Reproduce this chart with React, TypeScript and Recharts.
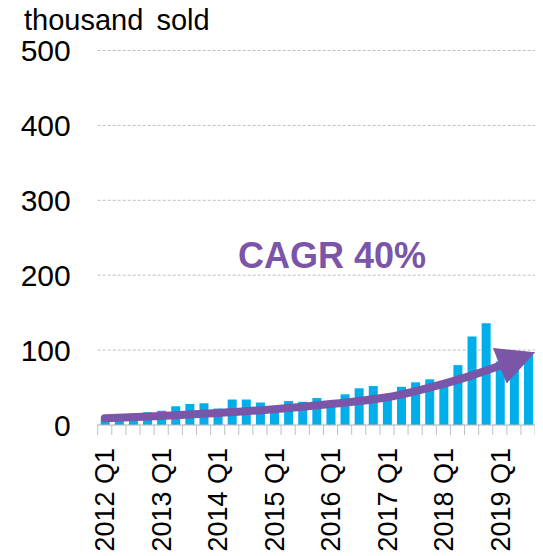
import React from 'react';
import { ComposedChart, Bar, Line, XAxis, YAxis, CartesianGrid } from 'recharts';

// quarterly sales, 2012 Q1 - 2019 Q4 (thousand units)
const quarters = [
  '2012 Q1', '2012 Q2', '2012 Q3', '2012 Q4',
  '2013 Q1', '2013 Q2', '2013 Q3', '2013 Q4',
  '2014 Q1', '2014 Q2', '2014 Q3', '2014 Q4',
  '2015 Q1', '2015 Q2', '2015 Q3', '2015 Q4',
  '2016 Q1', '2016 Q2', '2016 Q3', '2016 Q4',
  '2017 Q1', '2017 Q2', '2017 Q3', '2017 Q4',
  '2018 Q1', '2018 Q2', '2018 Q3', '2018 Q4',
  '2019 Q1', '2019 Q2', '2019 Q3', '2019 Q4',
];
const sold = [
  7, 8, 9, 17, 19, 25, 28, 29,
  22, 34, 34, 30, 25, 32, 31, 36,
  30, 41, 49, 52, 40, 51, 57, 61,
  58, 80, 118, 136, 85, 88, 95, 100,
];
// CAGR trend arrow
const trend = [
  9, null, null, null, 12, null, null, null,
  16, null, null, null, 21, null, null, null,
  28, null, null, null, 37, null, null, null,
  55, null, 66, null, 79, null, null, null,
];
const yTicks = [0, 100, 200, 300, 400, 500];

const data = quarters.map((q, i) => ({ quarter: q, sold: sold[i], trend: trend[i] }));

const FONT = 'Arial, "Liberation Sans", sans-serif';
const PURPLE = '#7B55A7';
const BLUE = '#00AEEA';
const GREY = '#bfbfbf';

const CHART_W = 560;
const Y_W = 97.7;
const RIGHT = 10.8;
const STEP = (CHART_W - Y_W - RIGHT) / quarters.length;

let lastTrend = 0;
trend.forEach((v, i) => { if (v != null) lastTrend = i; });

const QuarterTick = (props: any) => {
  const { x, y, payload } = props;
  const label = String(payload.value);
  return (
    <g>
      <line x1={x - STEP / 2} x2={x - STEP / 2} y1={y} y2={y + 10} stroke={GREY} />
      {label.endsWith('Q1') && (
        <text
          transform={`translate(${x},${y + 23}) rotate(-90)`}
          textAnchor="end"
          dy="0.36em"
          fontSize={27}
          fontFamily={FONT}
          fill="#000"
        >
          {label}
        </text>
      )}
    </g>
  );
};

const ArrowDot = (props: any) => {
  const { cx, cy, index } = props;
  if (index !== lastTrend || cx == null || cy == null) return <g key={`d${index}`} />;
  const a = (-21 * Math.PI) / 180;
  const L = 38;
  const W = 19;
  const tip = [cx + L * Math.cos(a), cy + L * Math.sin(a)];
  const b1 = [cx - W * Math.sin(a), cy + W * Math.cos(a)];
  const b2 = [cx + W * Math.sin(a), cy - W * Math.cos(a)];
  return (
    <polygon
      key={`d${index}`}
      points={`${tip[0]},${tip[1]} ${b1[0]},${b1[1]} ${b2[0]},${b2[1]}`}
      fill={PURPLE}
    />
  );
};

const App: React.FC = () => {
  return (
    <div style={{ position: 'relative', width: 543, height: 556, overflow: 'hidden', marginLeft: -8, marginTop: -8 }}>
      <ComposedChart
        width={CHART_W}
        height={556}
        data={data}
        margin={{ top: 50.5, right: RIGHT, left: 0, bottom: 0 }}
      >
        <CartesianGrid vertical={false} stroke={GREY} strokeDasharray="3 2" />
        <XAxis
          dataKey="quarter"
          interval={0}
          height={131}
          tickLine={false}
          tickSize={0}
          tickMargin={0}
          axisLine={{ stroke: GREY }}
          tick={<QuarterTick />}
        />
        <YAxis
          width={Y_W}
          domain={[0, 500]}
          ticks={yTicks}
          axisLine={false}
          tickLine={false}
          tickSize={0}
          tickMargin={27}
          tick={{ fontSize: 30, fontFamily: FONT, fill: '#000' }}
        />
        <Bar dataKey="sold" fill={BLUE} barSize={9} isAnimationActive={false} />
        <Line
          dataKey="trend"
          type="monotone"
          connectNulls
          stroke={PURPLE}
          strokeWidth={8}
          strokeLinecap="round"
          dot={ArrowDot}
          activeDot={false}
          isAnimationActive={false}
        />
      </ComposedChart>
      <div
        style={{
          position: 'absolute', left: 24, top: 5.5, fontSize: 29, lineHeight: '29px',
          fontFamily: FONT, color: '#000', wordSpacing: 5, whiteSpace: 'nowrap',
        }}
      >
        thousand sold
      </div>
      <div
        style={{
          position: 'absolute', left: 332, top: 237.5, transform: 'translateX(-50%)',
          fontSize: 36, lineHeight: '36px', fontWeight: 'bold', fontFamily: FONT,
          color: PURPLE, whiteSpace: 'nowrap',
        }}
      >
        CAGR 40%
      </div>
    </div>
  );
};

export default App;
